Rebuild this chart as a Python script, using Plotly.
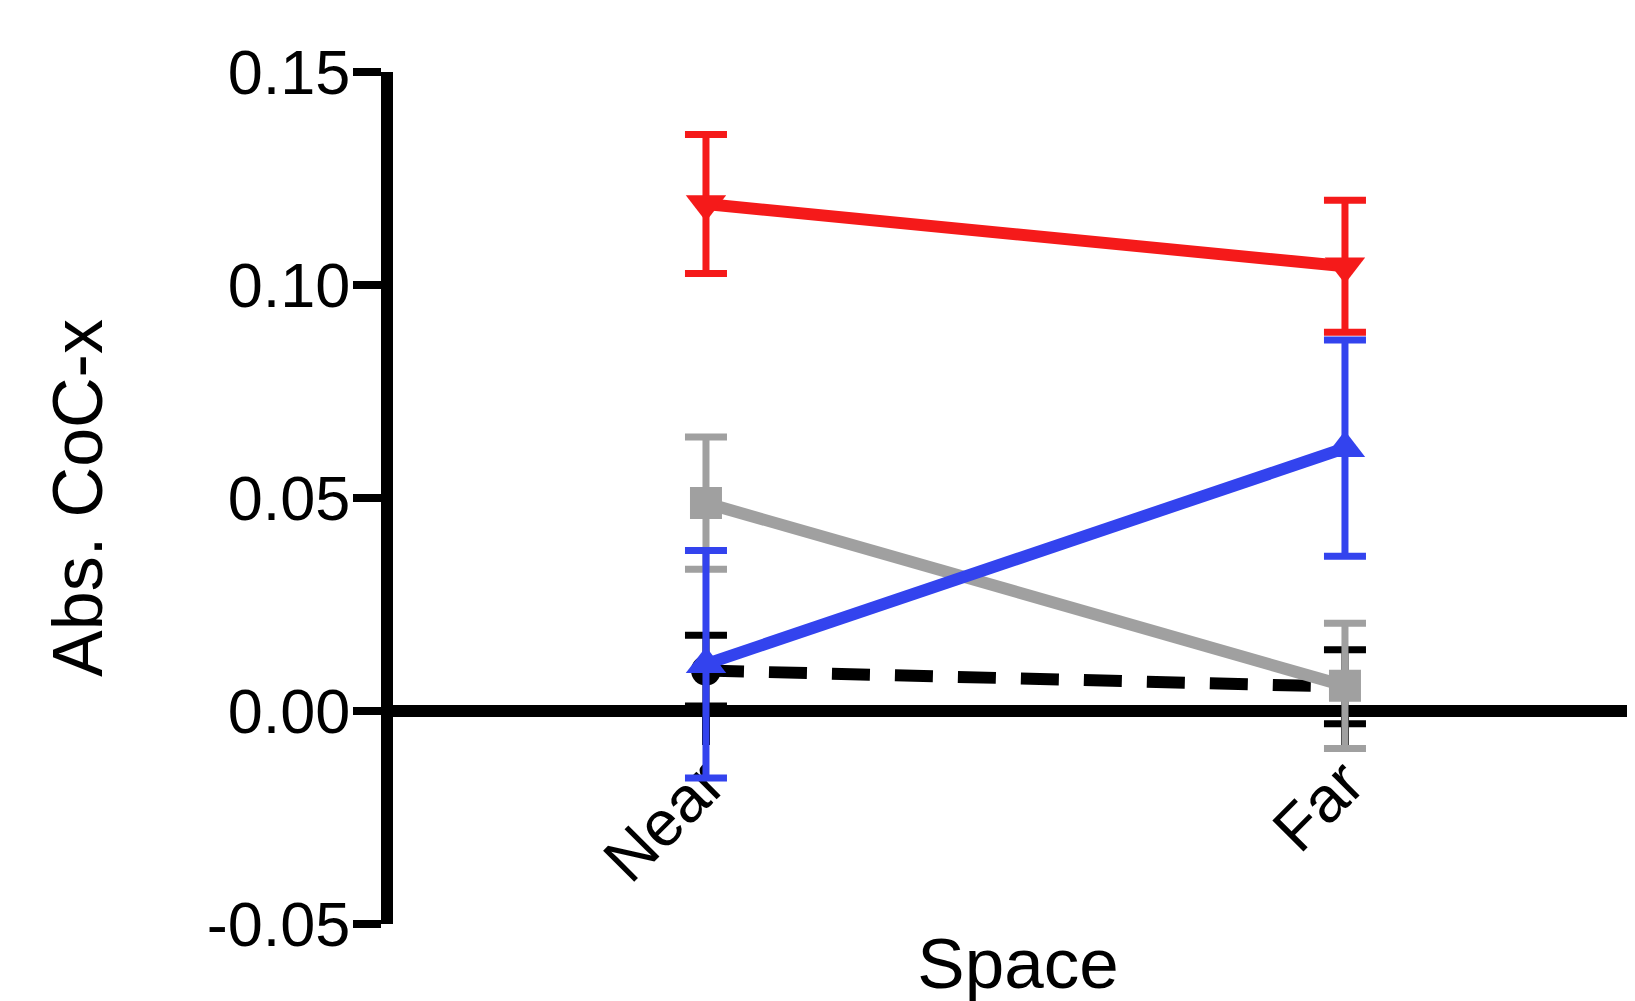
import plotly.graph_objects as go

categories = ["Near", "Far"]

black_mean = [0.0095, 0.0057]
black_err = [0.0083, 0.0087]

gray_mean = [0.0488, 0.0059]
gray_err = [0.0155, 0.0147]

blue_mean = [0.0110, 0.0617]
blue_err = [0.0267, 0.0254]

red_mean = [0.1190, 0.1044]
red_err = [0.0163, 0.0155]

y_ticks = [-0.05, 0.00, 0.05, 0.10, 0.15]
y_ticktext = ["-0.05", "0.00", "0.05", "0.10", "0.15"]

FONT = "Liberation Sans, Arial, Helvetica, sans-serif"

series = [
    (black_mean, black_err, "#000000", "circle", 30, "38px,25px"),
    (gray_mean, gray_err, "#A0A0A0", "square", 32, "solid"),
    (blue_mean, blue_err, "#3343EE", "triangle-up", 35, "solid"),
    (red_mean, red_err, "#F51A1A", "triangle-down", 35, "solid"),
]

fig = go.Figure()
for mean, err, color, sym, size, dash in series:
    fig.add_trace(go.Scatter(
        x=categories, y=mean,
        mode="lines+markers",
        line=dict(color=color, width=12, dash=dash),
        marker=dict(color=color, symbol=sym, size=size),
        error_y=dict(type="data", array=err, visible=True,
                     color=color, thickness=7, width=21),
        showlegend=False,
    ))

fig.update_layout(
    width=1635, height=1001,
    margin=dict(l=385, r=0, t=64, b=85),
    paper_bgcolor="white", plot_bgcolor="white",
    font=dict(family=FONT, color="black", size=63),
)

fig.update_xaxes(
    type="category",
    range=[-0.4898, 1.4664],
    anchor="free", position=0.25,
    showline=True, linecolor="black", linewidth=12,
    ticks="outside", ticklen=28, tickwidth=8, tickcolor="black",
    tickangle=-45,
    ticklabelstandoff=-25,
    tickfont=dict(size=64, family=FONT),
    showgrid=False, zeroline=False,
    layer="below traces",
    title=dict(text="Space", font=dict(size=71, family=FONT), standoff=43),
)

fig.update_yaxes(
    range=[-0.05, 0.15],
    tickvals=y_ticks, ticktext=y_ticktext,
    showline=True, linecolor="black", linewidth=12,
    ticks="outside", ticklen=28, tickwidth=8, tickcolor="black",
    ticklabelstandoff=-10,
    tickfont=dict(size=63, family=FONT),
    showgrid=False, zeroline=False,
    title=dict(text="Abs. CoC-x", font=dict(size=70, family=FONT), standoff=86),
)

fig.write_html("out.html")
